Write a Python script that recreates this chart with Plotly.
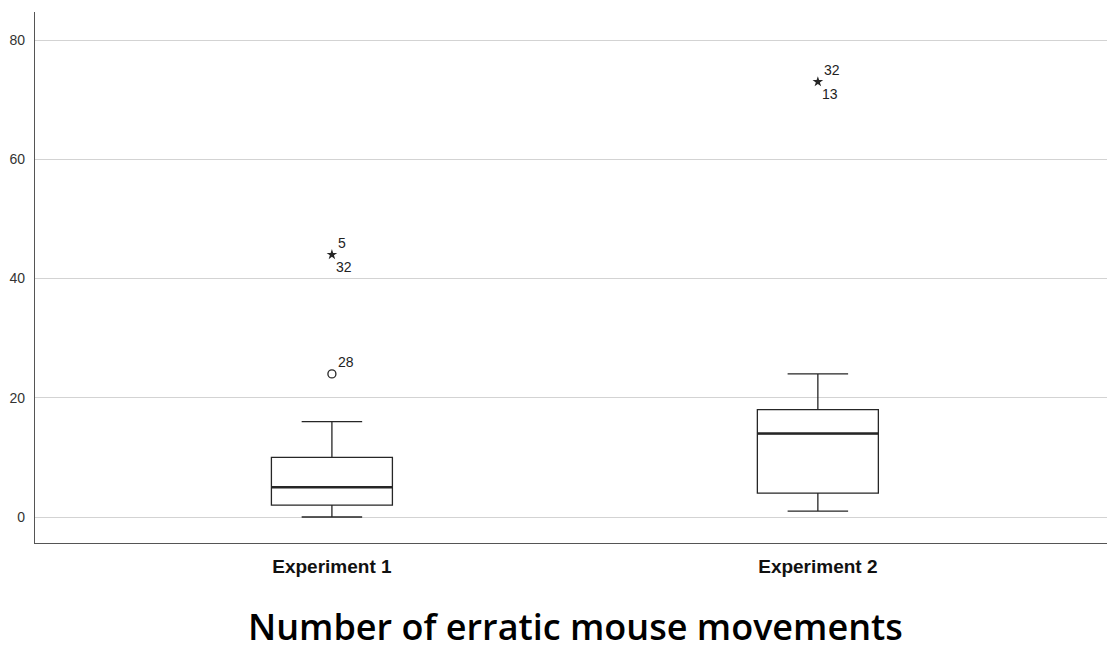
import plotly.graph_objects as go

categories = ["Experiment 1", "Experiment 2"]
lower_whisker = [0, 1]
q1 = [2, 4]
median = [5, 14]
q3 = [10, 18]
upper_whisker = [16, 24]

# outliers: category index, value, kind, label above, label below
outlier_cat = [0, 0, 1]
outlier_val = [44, 24, 73]
outlier_kind = ["extreme", "mild", "extreme"]
label_above = ["5", "28", "32"]
label_below = ["32", "", "13"]

yticks = [0, 20, 40, 60, 80]

BOX_W = 0.249
LINE = "#262626"

fig = go.Figure()
xpos = list(range(len(categories)))

fig.add_trace(go.Box(
    x=xpos, q1=q1, median=median, q3=q3,
    lowerfence=lower_whisker, upperfence=upper_whisker,
    width=BOX_W, whiskerwidth=0.5, fillcolor="white",
    line=dict(color=LINE, width=1.3), boxpoints=False,
    hoverinfo="skip", showlegend=False,
))

# thicker median lines
for i, m in enumerate(median):
    fig.add_trace(go.Scatter(
        x=[xpos[i] - BOX_W / 2, xpos[i] + BOX_W / 2], y=[m, m],
        mode="lines", line=dict(color=LINE, width=2.4),
        showlegend=False, hoverinfo="skip",
    ))

# outlier markers
for c, v, k in zip(outlier_cat, outlier_val, outlier_kind):
    fig.add_trace(go.Scatter(
        x=[c], y=[v], mode="markers",
        marker=dict(
            symbol="star" if k == "extreme" else "circle-open",
            size=8,
            color=LINE, line=dict(color=LINE, width=1.3 if k == "mild" else 0),
        ),
        showlegend=False, hoverinfo="skip",
    ))

# outlier labels
LBL_FONT = dict(family="Liberation Sans, Arial", size=14, color="#222")
for c, v, a, b in zip(outlier_cat, outlier_val, label_above, label_below):
    if a:
        fig.add_annotation(x=c, y=v, text=a, showarrow=False,
                           xanchor="left", yanchor="bottom", xshift=4, yshift=2,
                           font=LBL_FONT)
    if b:
        fig.add_annotation(x=c, y=v, text=b, showarrow=False,
                           xanchor="left", yanchor="top", xshift=2, yshift=-2,
                           font=LBL_FONT)

fig.add_annotation(
    x=0.504, y=-0.205, xref="paper", yref="paper",
    text="Number of erratic mouse movements", showarrow=False,
    xanchor="center", yanchor="bottom", borderpad=0,
    font=dict(family="Open Sans", size=36, color="#000", weight=600),
)

fig.update_layout(
    width=1107, height=655,
    margin=dict(l=35, r=0, t=12, b=112),
    paper_bgcolor="white", plot_bgcolor="white",
    showlegend=False,
    xaxis=dict(
        range=[-0.611, 1.595], tickmode="array", tickvals=xpos, ticktext=categories,
        showgrid=False, zeroline=False, showline=True, linecolor="#555", linewidth=1.3,
        ticks="", tickfont=dict(family="Liberation Sans, Arial", size=19, color="#111", weight="bold"),
        ticklabelstandoff=6,
    ),
    yaxis=dict(
        range=[-4.36, 84.7], tickmode="array", tickvals=yticks,
        showgrid=True, gridcolor="#d3d3d3", gridwidth=1.3,
        zeroline=False, showline=True, linecolor="#555", linewidth=1.3,
        ticks="", tickfont=dict(family="Liberation Sans, Arial", size=14, color="#333"),
        ticklabelstandoff=6,
    ),
)

fig.write_html(
    "out.html",
    config={"displayModeBar": False},
    post_script="document.body.style.margin='0';document.body.style.overflow='hidden';",
)
